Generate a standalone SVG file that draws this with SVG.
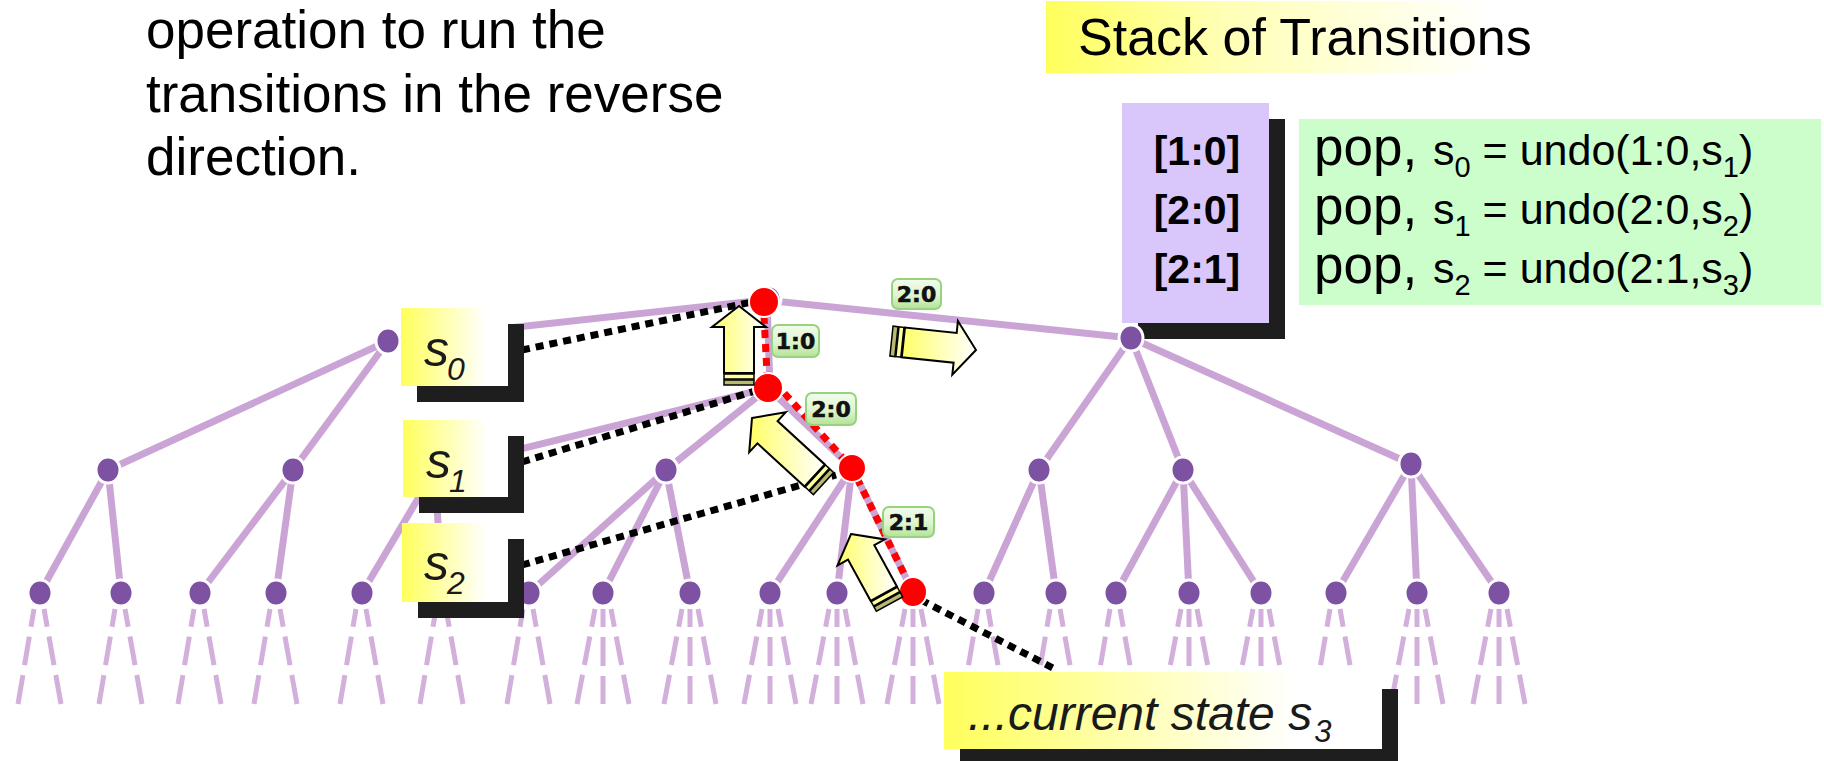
<svg xmlns="http://www.w3.org/2000/svg" width="1824" height="761" viewBox="0 0 1824 761">
  <defs>
    <linearGradient id="yellowFade" x1="0" y1="0" x2="1" y2="0">
      <stop offset="0" stop-color="#ffff5c"/>
      <stop offset="0.8" stop-color="#ffffff"/>
      <stop offset="1" stop-color="#ffffff"/>
    </linearGradient>
    <linearGradient id="titleFade" x1="0" y1="0" x2="1" y2="0">
      <stop offset="0" stop-color="#ffff5c"/>
      <stop offset="0.35" stop-color="#ffffb4"/>
      <stop offset="0.9" stop-color="#ffffff"/>
      <stop offset="1" stop-color="#ffffff"/>
    </linearGradient>
    <linearGradient id="arrowFill" x1="0" y1="0" x2="1" y2="0">
      <stop offset="0" stop-color="#ffff66"/>
      <stop offset="1" stop-color="#ffffff"/>
    </linearGradient>
    <linearGradient id="tagFill" x1="0" y1="0" x2="0" y2="1">
      <stop offset="0" stop-color="#f2fcec"/>
      <stop offset="0.55" stop-color="#ddf5cf"/>
      <stop offset="1" stop-color="#b3e296"/>
    </linearGradient>
    <style>
      .intro { font-family: "Liberation Sans", Arial, sans-serif; font-size: 53px; fill: #000; }
      .title { font-family: "Liberation Sans", Arial, sans-serif; font-size: 52px; fill: #000; }
      .stack { font-family: "Liberation Sans", Arial, sans-serif; font-weight: bold; font-size: 41px; fill: #000; text-anchor: middle; }
      .undo { font-family: "Liberation Sans", Arial, sans-serif; fill: #000; }
      .state { font-family: "Liberation Sans", Arial, sans-serif; font-style: italic; fill: #1a1a1a; }
      .shadow { fill: #1e1e1e; }
      .edge { stroke: #cba4d6; stroke-width: 7; fill: none; }
      .leaf { stroke: #d3b0dc; stroke-width: 5; fill: none; stroke-dasharray: 18 10 29 10 40; }
      .node { fill: #7e52a3; stroke: #ffffff; stroke-width: 3; }
      .hot { fill: #ff0000; stroke: #ffffff; stroke-width: 2; }
      .trail { stroke: #ff0000; stroke-width: 7; fill: none; stroke-dasharray: 8 6; }
      .link { stroke: #000000; stroke-width: 7; fill: none; stroke-dasharray: 8 6; }
      .arrow { fill: url(#arrowFill); stroke: #000; stroke-width: 2; stroke-linejoin: miter; }
      .band1 { fill: #ffffa0; stroke: #000; stroke-width: 1.5; }
      .band2 { fill: #b8b870; stroke: #000; stroke-width: 1.5; }
      .tag rect { fill: url(#tagFill); stroke: #97d37f; stroke-width: 2; }
      .tag text { font-family: "DejaVu Sans", Verdana, sans-serif; font-weight: bold; font-size: 22px; fill: #111; stroke: #111; stroke-width: 0.6; text-anchor: middle; }
    </style>
  </defs>

  <rect width="1824" height="761" fill="#ffffff"/>

  <!-- explanatory text -->
  <g id="intro">
    <text class="intro" x="146" y="48">operation to run the</text>
    <text class="intro" x="146" y="112">transitions in the reverse</text>
    <text class="intro" x="146" y="175">direction.</text>
  </g>

  <!-- stack heading -->
  <g id="stack-title">
    <rect x="1046" y="1" width="494" height="72" fill="url(#titleFade)"/>
    <text class="title" x="1078" y="55">Stack of Transitions</text>
  </g>

  <!-- stack contents -->
  <g id="stack">
    <rect class="shadow" x="1138" y="119" width="147" height="220"/>
    <rect x="1122" y="103" width="147" height="220" fill="#d9c6fb"/>
    <text class="stack" x="1197" y="165">[1:0]</text>
    <text class="stack" x="1197" y="224">[2:0]</text>
    <text class="stack" x="1197" y="283">[2:1]</text>
  </g>

  <!-- undo operations -->
  <g id="undo-steps">
    <rect x="1299" y="119" width="522" height="186" fill="#ccfecc"/>
    <text class="undo" y="165"><tspan x="1314" font-size="53">pop,</tspan><tspan x="1433" font-size="43">s</tspan><tspan font-size="29" dy="12">0</tspan><tspan font-size="43" dy="-12"> = undo(1:0,s</tspan><tspan font-size="29" dy="12">1</tspan><tspan font-size="43" dy="-12">)</tspan></text>
    <text class="undo" y="224"><tspan x="1314" font-size="53">pop,</tspan><tspan x="1433" font-size="43">s</tspan><tspan font-size="29" dy="12">1</tspan><tspan font-size="43" dy="-12"> = undo(2:0,s</tspan><tspan font-size="29" dy="12">2</tspan><tspan font-size="43" dy="-12">)</tspan></text>
    <text class="undo" y="283"><tspan x="1314" font-size="53">pop,</tspan><tspan x="1433" font-size="43">s</tspan><tspan font-size="29" dy="12">2</tspan><tspan font-size="43" dy="-12"> = undo(2:1,s</tspan><tspan font-size="29" dy="12">3</tspan><tspan font-size="43" dy="-12">)</tspan></text>
  </g>

  <!-- tree edges and pointers -->
  <g id="connectors">
    <g id="tree-edges">
      <line class="edge" x1="764" y1="300" x2="388" y2="341"/>
      <line class="edge" x1="767" y1="300" x2="770" y2="388"/>
      <line class="edge" x1="764" y1="300" x2="1131" y2="338"/>
      <line class="edge" x1="388" y1="341" x2="108" y2="470"/>
      <line class="edge" x1="388" y1="341" x2="293" y2="470"/>
      <line class="edge" x1="768" y1="388" x2="435" y2="470"/>
      <line class="edge" x1="768" y1="388" x2="666" y2="470"/>
      <line class="edge" x1="768" y1="388" x2="852" y2="468"/>
      <line class="edge" x1="1131" y1="338" x2="1039" y2="470"/>
      <line class="edge" x1="1131" y1="338" x2="1183" y2="470"/>
      <line class="edge" x1="1131" y1="338" x2="1411" y2="464"/>
      <line class="edge" x1="108" y1="470" x2="40" y2="593"/>
      <line class="edge" x1="108" y1="470" x2="121" y2="593"/>
      <line class="edge" x1="293" y1="470" x2="200" y2="593"/>
      <line class="edge" x1="293" y1="470" x2="276" y2="593"/>
      <line class="edge" x1="435" y1="470" x2="362" y2="593"/>
      <line class="edge" x1="435" y1="470" x2="442" y2="593"/>
      <line class="edge" x1="666" y1="470" x2="529" y2="593"/>
      <line class="edge" x1="666" y1="470" x2="603" y2="593"/>
      <line class="edge" x1="666" y1="470" x2="690" y2="593"/>
      <line class="edge" x1="852" y1="468" x2="770" y2="593"/>
      <line class="edge" x1="852" y1="468" x2="837" y2="593"/>
      <line class="edge" x1="852" y1="468" x2="913" y2="592"/>
      <line class="edge" x1="1039" y1="470" x2="984" y2="593"/>
      <line class="edge" x1="1039" y1="470" x2="1056" y2="593"/>
      <line class="edge" x1="1183" y1="470" x2="1116" y2="593"/>
      <line class="edge" x1="1183" y1="470" x2="1189" y2="593"/>
      <line class="edge" x1="1183" y1="470" x2="1261" y2="593"/>
      <line class="edge" x1="1411" y1="464" x2="1336" y2="593"/>
      <line class="edge" x1="1411" y1="464" x2="1417" y2="593"/>
      <line class="edge" x1="1411" y1="464" x2="1499" y2="593"/>
    </g>
    <!-- unexplored successors below the third level -->
    <g id="leaf-edges">
      <path class="leaf" d="M34,609 L18,704 M44,609 L61,704"/>
      <path class="leaf" d="M115,609 L99,704 M125,609 L142,704"/>
      <path class="leaf" d="M194,609 L178,704 M204,609 L221,704"/>
      <path class="leaf" d="M270,609 L254,704 M280,609 L297,704"/>
      <path class="leaf" d="M356,609 L340,704 M366,609 L383,704"/>
      <path class="leaf" d="M436,609 L420,704 M446,609 L463,704"/>
      <path class="leaf" d="M523,609 L507,704 M533,609 L550,704"/>
      <path class="leaf" d="M595,609 L577,704 M603,609 L603,704 M611,609 L629,704"/>
      <path class="leaf" d="M682,609 L664,704 M690,609 L690,704 M698,609 L716,704"/>
      <path class="leaf" d="M762,609 L744,704 M770,609 L770,704 M778,609 L796,704"/>
      <path class="leaf" d="M829,609 L811,704 M837,609 L837,704 M845,609 L863,704"/>
      <path class="leaf" d="M905,609 L887,704 M913,609 L913,704 M921,609 L939,704"/>
      <path class="leaf" d="M978,609 L962,704 M988,609 L1005,704"/>
      <path class="leaf" d="M1050,609 L1034,704 M1060,609 L1077,704"/>
      <path class="leaf" d="M1110,609 L1094,704 M1120,609 L1137,704"/>
      <path class="leaf" d="M1181,609 L1163,704 M1189,609 L1189,704 M1197,609 L1215,704"/>
      <path class="leaf" d="M1253,609 L1235,704 M1261,609 L1261,704 M1269,609 L1287,704"/>
      <path class="leaf" d="M1330,609 L1314,704 M1340,609 L1357,704"/>
      <path class="leaf" d="M1409,609 L1391,704 M1417,609 L1417,704 M1425,609 L1443,704"/>
      <path class="leaf" d="M1491,609 L1473,704 M1499,609 L1499,704 M1507,609 L1525,704"/>
    </g>
    <!-- path taken so far -->
    <polyline id="trail" class="trail" points="764,316 767,374 852,468 913,592"/>
    <!-- pointers from saved states to tree nodes -->
    <g id="state-links">
      <line class="link" x1="522" y1="350" x2="752" y2="302"/>
      <line class="link" x1="522" y1="462" x2="755" y2="391"/>
      <line class="link" x1="522" y1="565" x2="836" y2="475"/>
      <line class="link" x1="921" y1="600" x2="1053" y2="668"/>
    </g>
  </g>

  <!-- tree nodes -->
  <g id="n-root"><ellipse class="node" cx="769" cy="299" rx="12" ry="13"/><circle class="hot" cx="764" cy="302" r="15"/></g>
  <g id="n-a"><ellipse class="node" cx="388" cy="341" rx="12" ry="13"/></g>
  <g id="n-b"><circle class="hot" cx="768" cy="388" r="15"/></g>
  <g id="n-c"><ellipse class="node" cx="1131" cy="338" rx="12" ry="13"/></g>
  <g id="n-a1"><ellipse class="node" cx="108" cy="470" rx="12" ry="13"/></g>
  <g id="n-a2"><ellipse class="node" cx="293" cy="470" rx="12" ry="13"/></g>
  <g id="n-h"><ellipse class="node" cx="435" cy="470" rx="12" ry="13"/></g>
  <g id="n-b2"><ellipse class="node" cx="666" cy="470" rx="12" ry="13"/></g>
  <g id="n-b3"><circle class="hot" cx="852" cy="468" r="14"/></g>
  <g id="n-c1"><ellipse class="node" cx="1039" cy="470" rx="12" ry="13"/></g>
  <g id="n-c2"><ellipse class="node" cx="1183" cy="470" rx="12" ry="13"/></g>
  <g id="n-c3"><ellipse class="node" cx="1411" cy="464" rx="12" ry="13"/></g>
  <g id="n-a1-1"><ellipse class="node" cx="40" cy="593" rx="12" ry="13"/></g>
  <g id="n-a1-2"><ellipse class="node" cx="121" cy="593" rx="12" ry="13"/></g>
  <g id="n-a2-1"><ellipse class="node" cx="200" cy="593" rx="12" ry="13"/></g>
  <g id="n-a2-2"><ellipse class="node" cx="276" cy="593" rx="12" ry="13"/></g>
  <g id="n-h-1"><ellipse class="node" cx="362" cy="593" rx="12" ry="13"/></g>
  <g id="n-h-2"><ellipse class="node" cx="442" cy="593" rx="12" ry="13"/></g>
  <g id="n-b2-1"><ellipse class="node" cx="529" cy="593" rx="12" ry="13"/></g>
  <g id="n-b2-2"><ellipse class="node" cx="603" cy="593" rx="12" ry="13"/></g>
  <g id="n-b2-3"><ellipse class="node" cx="690" cy="593" rx="12" ry="13"/></g>
  <g id="n-b3-1"><ellipse class="node" cx="770" cy="593" rx="12" ry="13"/></g>
  <g id="n-b3-2"><ellipse class="node" cx="837" cy="593" rx="12" ry="13"/></g>
  <g id="n-b3-3"><ellipse class="hot" cx="913" cy="592" rx="14" ry="15"/></g>
  <g id="n-c1-1"><ellipse class="node" cx="984" cy="593" rx="12" ry="13"/></g>
  <g id="n-c1-2"><ellipse class="node" cx="1056" cy="593" rx="12" ry="13"/></g>
  <g id="n-c2-1"><ellipse class="node" cx="1116" cy="593" rx="12" ry="13"/></g>
  <g id="n-c2-2"><ellipse class="node" cx="1189" cy="593" rx="12" ry="13"/></g>
  <g id="n-c2-3"><ellipse class="node" cx="1261" cy="593" rx="12" ry="13"/></g>
  <g id="n-c3-1"><ellipse class="node" cx="1336" cy="593" rx="12" ry="13"/></g>
  <g id="n-c3-2"><ellipse class="node" cx="1417" cy="593" rx="12" ry="13"/></g>
  <g id="n-c3-3"><ellipse class="node" cx="1499" cy="593" rx="12" ry="13"/></g>

  <!-- block arrows: undo moves and the forward move -->
  <g id="arrow-up">
    <path class="arrow" d="M739,306 L766,327 L754,327 L754,373 L724,373 L724,327 L712,327 Z"/>
    <rect class="band1" x="724" y="374" width="30" height="5"/>
    <rect class="band2" x="724" y="380" width="30" height="5"/>
  </g>
  <g id="arrow-forward">
    <path class="arrow" d="M976,350 L952.3,374.7 L953.6,362.7 L901.8,357.3 L905,327.5 L956.7,332.9 L957.9,321 Z"/>
    <g transform="translate(976,350) rotate(96)">
      <rect class="band1" x="-15" y="74" width="30" height="5"/>
      <rect class="band2" x="-15" y="80" width="30" height="5"/>
    </g>
  </g>
  <g id="arrow-back-1">
    <path class="arrow" d="M752,418 L785.7,412.3 L777.6,421.1 L824.8,464.4 L804.5,486.5 L757.4,443.3 L749.2,452.1 Z"/>
    <g transform="translate(752,418) rotate(-47.5)">
      <rect class="band1" x="-15" y="86" width="30" height="5"/>
      <rect class="band2" x="-15" y="92" width="30" height="5"/>
    </g>
  </g>
  <g id="arrow-back-2">
    <path class="arrow" d="M851,534 L884.8,539.4 L874.3,545.2 L896.9,586.4 L870.6,600.8 L848,559.6 L837.5,565.4 Z"/>
    <g transform="translate(851,534) rotate(-28.8)">
      <rect class="band1" x="-15" y="69" width="30" height="5"/>
      <rect class="band2" x="-15" y="75" width="30" height="5"/>
    </g>
  </g>

  <!-- transition tags -->
  <g id="tag-1-0" class="tag"><rect x="772" y="325" width="47" height="32" rx="6"/><text x="795.5" y="349">1:0</text></g>
  <g id="tag-2-0-fwd" class="tag"><rect x="892" y="279" width="49" height="30" rx="6"/><text x="916.5" y="302">2:0</text></g>
  <g id="tag-2-0" class="tag"><rect x="806" y="393" width="50" height="32" rx="6"/><text x="831" y="417">2:0</text></g>
  <g id="tag-2-1" class="tag"><rect x="883" y="507" width="51" height="30" rx="6"/><text x="908.5" y="530">2:1</text></g>

  <!-- saved state labels -->
  <g id="label-s0">
    <rect class="shadow" x="417" y="324" width="107" height="78"/>
    <rect x="401" y="308" width="107" height="78" fill="url(#yellowFade)"/>
    <text class="state"><tspan x="424" y="366" font-size="50">s</tspan><tspan x="447" y="380" font-size="32">0</tspan></text>
  </g>
  <g id="label-s1">
    <rect class="shadow" x="419" y="436" width="105" height="77"/>
    <rect x="403" y="420" width="105" height="77" fill="url(#yellowFade)"/>
    <text class="state"><tspan x="426" y="478" font-size="50">s</tspan><tspan x="449" y="492" font-size="32">1</tspan></text>
  </g>
  <g id="label-s2">
    <rect class="shadow" x="418" y="539" width="106" height="79"/>
    <rect x="402" y="523" width="106" height="79" fill="url(#yellowFade)"/>
    <text class="state"><tspan x="424" y="580" font-size="50">s</tspan><tspan x="447" y="594" font-size="32">2</tspan></text>
  </g>
  <g id="label-s3">
    <rect class="shadow" x="960" y="689" width="438" height="77"/>
    <rect x="944" y="672" width="438" height="77" fill="url(#yellowFade)"/>
    <text class="state" y="730"><tspan x="968" font-size="48">...current state s</tspan><tspan font-size="31" dx="2" dy="12">3</tspan></text>
  </g>
</svg>
